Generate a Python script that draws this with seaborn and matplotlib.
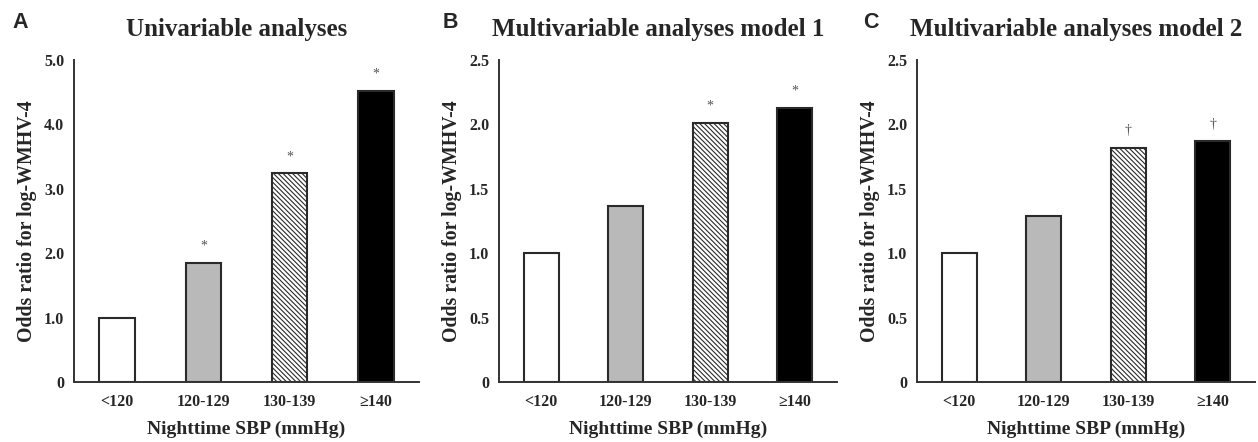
import seaborn as sns
import matplotlib.pyplot as plt
import pandas as pd

categories = ['<120', '120-129', '130-139', '≥140']
univariable = [1.0, 1.85, 3.24, 4.52]
model1 = [1.0, 1.37, 2.01, 2.13]
model2 = [1.0, 1.29, 1.82, 1.87]
marks_a = ['', '*', '*', '*']
marks_b = ['', '', '*', '*']
marks_c = ['', '', '†', '†']
titles = ['Univariable analyses', 'Multivariable analyses model 1', 'Multivariable analyses model 2']
letters = ['A', 'B', 'C']
yticks_a = [0, 1.0, 2.0, 3.0, 4.0, 5.0]
yticks_bc = [0, 0.5, 1.0, 1.5, 2.0, 2.5]

sns.set_style('white')
plt.rcParams['font.family'] = ['Liberation Serif', 'DejaVu Serif']
plt.rcParams['hatch.linewidth'] = 0.8

fills = {'<120': 'white', '120-129': '#b9b9b9', '130-139': 'white', '≥140': 'black'}
hatches = ['', '', '\\\\\\\\\\\\\\', '']

fig = plt.figure(figsize=(12.58, 4.42), dpi=100)
# axes boxes in pixels: left, right
boxes = [(74, 419), (499, 837), (917, 1255)]
panels = [(univariable, marks_a, yticks_a), (model1, marks_b, yticks_bc), (model2, marks_c, yticks_bc)]
letter_x = [12, 443, 863]

for k in range(3):
    vals, marks, yt = panels[k]
    l, r = boxes[k]
    ax = fig.add_axes([l / 1258, 1 - 382 / 442, (r - l) / 1258, 322 / 442])
    df = pd.DataFrame({'sbp': categories, 'odds': vals})
    sns.barplot(data=df, x='sbp', y='odds', hue='sbp', palette=fills, legend=False,
                width=0.41, edgecolor='#2a2a2a', linewidth=1.5, ax=ax)
    for p, h in zip(ax.patches, hatches):
        p.set_hatch(h)
    ax.set_xlim(-0.5, 3.5)
    ax.set_ylim(0, yt[-1])
    ax.set_yticks(yt)
    ax.set_yticklabels(['0'] + ['%.1f' % t for t in yt[1:]])
    ax.set_xticks([0.5, 1.5, 2.5, 3.5], minor=True)
    ax.tick_params(axis='x', which='major', length=0, pad=9)
    ax.tick_params(axis='x', which='minor', length=5, width=1.2, color='#333')
    ax.tick_params(axis='y', length=5, width=1.2, color='#333', pad=2)
    for lab in ax.get_xticklabels() + ax.get_yticklabels():
        lab.set_fontweight('bold')
        lab.set_fontsize(11.5)
    for s in ['top', 'right']:
        ax.spines[s].set_visible(False)
    for s in ['left', 'bottom']:
        ax.spines[s].set_color('#333')
        ax.spines[s].set_linewidth(1.4)
    ax.set_xlabel('Nighttime SBP (mmHg)', fontsize=14, fontweight='bold', labelpad=7.5)
    ax.set_ylabel('Odds ratio for log-WMHV-4', fontsize=14.3, fontweight='bold', labelpad=5)
    ax.set_title(titles[k], fontsize=18, fontweight='bold', pad=17, x=0.47)
    for i, (v, m) in enumerate(zip(vals, marks)):
        if m:
            ax.annotate(m, (i, v), xytext=(0, 12), textcoords='offset points',
                        ha='center', va='center', fontsize=10, color='#555')
    fig.text(letter_x[k] / 1258, 1 - 22 / 442, letters[k], fontsize=15.5, fontweight='bold',
             family='Liberation Sans', va='center', ha='left')

fig.savefig('out.png', dpi=100)
